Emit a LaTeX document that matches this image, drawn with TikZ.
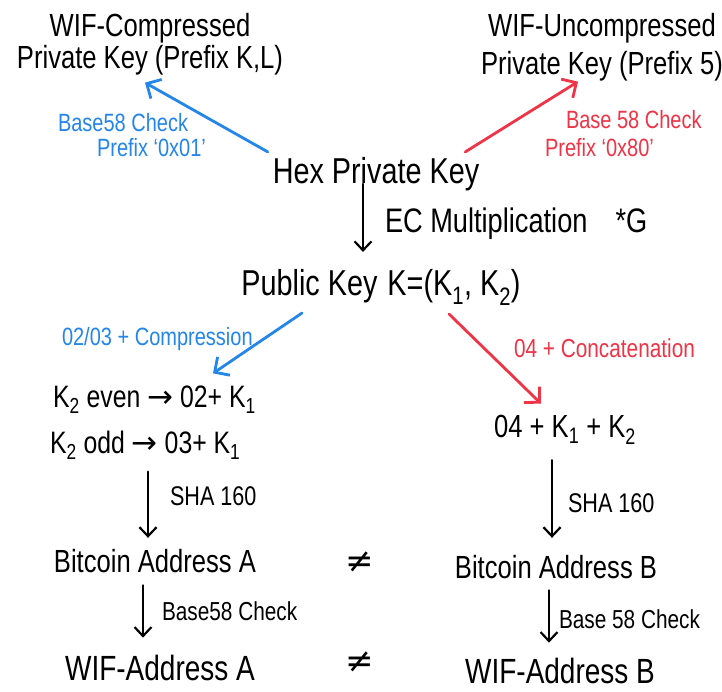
\documentclass[tikz,border=0pt]{standalone}
\usepackage{fontspec}
\setmainfont{Liberation Sans}[FakeStretch=0.8]
\newfontfamily\symfont{DejaVu Sans}
\usetikzlibrary{arrows.meta}
\definecolor{blueink}{RGB}{36,134,232}
\definecolor{redink}{RGB}{238,52,70}
\begin{document}
\begin{tikzpicture}[x=1pt,y=-1pt,
  every node/.style={inner sep=0pt, outer sep=0pt},
  fsz/.style={font=\fontsize{#1}{#1}\selectfont},
  head/.style={fsz=32, align=center, anchor=base},
  key/.style={fsz=36, anchor=base},
  mid/.style={fsz=31, anchor=base},
  addr/.style={fsz=32, anchor=base},
  wif/.style={fsz=35, anchor=base},
  oplbl/.style={fsz=#1, anchor=base west},
  bluelbl/.style={fsz=25, anchor=base west, text=blueink},
  redlbl/.style={fsz=25, anchor=base west, text=redink},
  neqsign/.style={font=\symfont\fontsize{34}{34}\selectfont, anchor=base},
  karr/.style={draw=black, line width=2.2pt, line cap=round,
    -{Straight Barb[length=9pt, width=17pt]}},
  barr/.style={draw=blueink, line width=2.8pt, line cap=round,
    -{Straight Barb[length=11pt, width=22pt]}},
  rarr/.style={draw=redink, line width=2.8pt, line cap=round,
    -{Straight Barb[length=11pt, width=22pt]}},
]
\fill[white] (0,0) rectangle (722,692);
\useasboundingbox (0,0) rectangle (722,692);

% private key forms (multi-line nodes sit on the baseline of their last line)
\node[head] (wifc) at (150,69) {WIF-Compressed\\Private Key (Prefix K,L)};
\node[head] (wifu) at (602,75) {WIF-Uncompressed\\[6pt]Private Key (Prefix 5)};
\node[key] (hex) at (376,184) {Hex Private Key};
\node[bluelbl, align=left] (lwifc) at (58,157) {Base58 Check\\\hspace*{39pt}Prefix `0x01'};
\node[redlbl, align=left] (lwifu) at (545,157) {\hspace*{21pt}Base 58 Check\\[3pt]Prefix `0x80'};

% public key
\node[oplbl=34] (lec) at (385,233) {EC Multiplication\hspace{28pt}*G};
\node[key] (pub) at (381,296) {Public Key\hspace{10pt}K=(K\textsubscript{1}, K\textsubscript{2})};
\node[bluelbl] (lcomp) at (62,345) {02/03 + Compression};
\node[redlbl, fsz=26] (lcat) at (514,357) {04 + Concatenation};

% serialised forms
\node[mid, anchor=base west] (even) at (53,407) {K\textsubscript{2} even {\symfont→} 02+ K\textsubscript{1}};
\node[mid, anchor=base west] (odd) at (50,453) {K\textsubscript{2} odd {\symfont→} 03+ K\textsubscript{1}};
\node[mid, fsz=32] (cat) at (565,437) {04 + K\textsubscript{1} + K\textsubscript{2}};

% addresses
\node[oplbl=27] (shaA) at (170,505) {SHA 160};
\node[oplbl=27] (shaB) at (568,512) {SHA 160};
\node[addr] (addrA) at (155,572) {Bitcoin Address A};
\node[addr] (addrB) at (556,578) {Bitcoin Address B};
\node[neqsign] (ne1) at (360,572) {≠};
\node[oplbl=26] (b58A) at (162,620) {Base58 Check};
\node[oplbl=26] (b58B) at (559,628) {Base 58 Check};
\node[wif] (wifA) at (160,680) {WIF-Address A};
\node[wif] (wifB) at (560,683) {WIF-Address B};
\node[neqsign] (ne2) at (360,672) {≠};

% connectors
\draw[karr] ([xshift=-13pt]hex.base) -- ([xshift=-18pt,yshift=18pt]pub.north);
\draw[barr] ([xshift=-5pt,yshift=6pt]hex.north west) -- ([xshift=-5pt,yshift=-7pt]wifc.south);
\draw[rarr] ([xshift=-14pt,yshift=6pt]hex.north east) -- ([xshift=-24pt]wifu.south);
\draw[barr] ([xshift=-79pt,yshift=-8pt]pub.south) -- ([xshift=160pt,yshift=12pt]even.north west);
\draw[rarr] ([xshift=68pt,yshift=-9pt]pub.south) -- ([xshift=-24pt,yshift=11pt]cat.north);
\draw[karr] ([xshift=98pt,yshift=-12pt]odd.south west) -- ([xshift=-7pt,yshift=11pt]addrA.north);
\draw[karr] ([xshift=-12pt,yshift=-13pt]addrA.south) -- ([xshift=-17pt,yshift=17pt]wifA.north);
\draw[karr] ([xshift=-13pt,yshift=-16pt]cat.south) -- ([xshift=-4pt,yshift=17pt]addrB.north);
\draw[karr] ([xshift=-7pt,yshift=-12pt]addrB.south) -- ([xshift=-11pt,yshift=15pt]wifB.north);
\end{tikzpicture}
\end{document}
